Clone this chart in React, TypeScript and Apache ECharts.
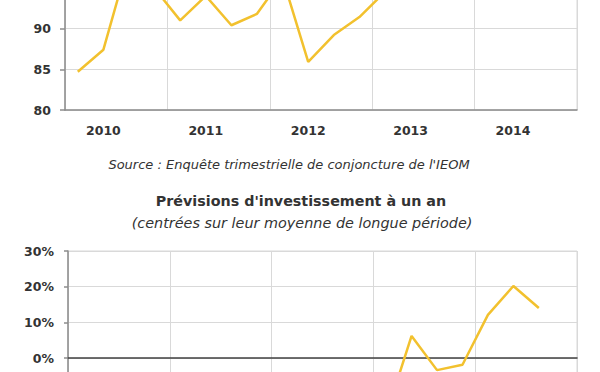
import React, { useEffect, useRef } from "react";
import * as echarts from "echarts";

const years = ["2010", "2011", "2012", "2013", "2014"];
const quarterNames = ["T1", "T2", "T3", "T4"];
const quarters: string[] = years.flatMap((y) => quarterNames.map((q) => `${y} ${q}`));

// Indicateur du climat des affaires (top chart, partially cropped)
const climateValues: (number | null)[] = [
  84.7, 87.4, 98.5, 94.9, 91.0, 94.0, 90.4, 91.8, 96.2, 85.9, 89.2, 91.4, 94.5,
];

// Prévisions d'investissement à un an (%), bottom chart, partially cropped
const investValues: (number | null)[] = [
  null, null, null, null, null, null, null, null, null, null, null, null,
  -16, 6.2, -3.4, -1.9, 12.1, 20.2, 14.0,
];

const topTicks = { min: 80, max: 100, interval: 5 };
const bottomTicks = { min: -30, max: 30, interval: 10 };
// tick labels that fall inside the visible crop
const topVisibleMax = 90;
const bottomVisibleMin = 0;

const sourceText = "Source : Enquête trimestrielle de conjoncture de l'IEOM";
const titleText = "Prévisions d'investissement à un an";
const subtitleText = "(centrées sur leur moyenne de longue période)";

const FONT = "DejaVu Sans";
const LINE_COLOR = "#F2C12E";
const GRID_COLOR = "#d9d9d9";
const AXIS_COLOR = "#8c8c8c";
const TEXT_COLOR = "#333333";

// the drawing surface extends beyond the visible page (the reference is a crop)
const OFF_TOP = 60;
const OFF_BOTTOM = 110;
const W = 600;
const H = 372;

export default function App() {
  const ref = useRef<HTMLDivElement>(null);
  useEffect(() => {
    if (!ref.current) return;
    const chart = echarts.init(ref.current, undefined, { renderer: "svg" });
    const yearSplit = (index: number) => index % 4 === 0;
    const labelAt = (index: number) => index % 4 === 1;
    const totalH = H + OFF_TOP + OFF_BOTTOM;
    chart.setOption({
      animation: false,
      textStyle: { fontFamily: FONT },
      grid: [
        {
          left: 65, right: 23, top: OFF_TOP - 53, bottom: totalH - (OFF_TOP + 110),
          show: true, borderColor: GRID_COLOR, borderWidth: 1, outerBoundsMode: "none",
        },
        {
          left: 68, right: 23, top: OFF_TOP + 251, bottom: totalH - (OFF_TOP + 465),
          show: true, borderColor: GRID_COLOR, borderWidth: 1, outerBoundsMode: "none",
        },
      ],
      xAxis: [
        {
          type: "category",
          gridIndex: 0,
          data: quarters,
          boundaryGap: true,
          axisLine: { show: true, lineStyle: { color: AXIS_COLOR, width: 1.5 } },
          axisTick: { show: false },
          axisLabel: {
            interval: labelAt,
            formatter: (v: string) => v.split(" ")[0],
            color: TEXT_COLOR,
            fontFamily: FONT,
            fontWeight: "bold",
            fontSize: 12.5,
            margin: 14,
          },
          splitLine: { show: true, interval: yearSplit, lineStyle: { color: GRID_COLOR, width: 1 } },
        },
        {
          type: "category",
          gridIndex: 1,
          data: quarters,
          boundaryGap: true,
          axisLine: { show: true, onZero: true, lineStyle: { color: "#404040", width: 1.5 } },
          axisTick: { show: false },
          axisLabel: { show: false },
          splitLine: { show: true, interval: yearSplit, lineStyle: { color: GRID_COLOR, width: 1 } },
        },
      ],
      yAxis: [
        {
          type: "value",
          gridIndex: 0,
          ...topTicks,
          axisLine: { show: true, lineStyle: { color: AXIS_COLOR, width: 1.5 } },
          axisTick: { show: true, length: 5, lineStyle: { color: AXIS_COLOR, width: 1.5 } },
          axisLabel: {
            formatter: (v: number) => (v <= topVisibleMax ? String(v) : ""),
            color: TEXT_COLOR,
            fontFamily: FONT,
            fontWeight: "bold",
            fontSize: 12.5,
            margin: 14,
          },
          splitLine: { show: true, lineStyle: { color: GRID_COLOR, width: 1 } },
        },
        {
          type: "value",
          gridIndex: 1,
          ...bottomTicks,
          axisLine: { show: true, lineStyle: { color: AXIS_COLOR, width: 1.5 } },
          axisTick: { show: true, length: 4, lineStyle: { color: AXIS_COLOR, width: 1.5 } },
          axisLabel: {
            formatter: (v: number) => (v >= bottomVisibleMin ? `${v}%` : ""),
            color: TEXT_COLOR,
            fontFamily: FONT,
            fontWeight: "bold",
            fontSize: 12.5,
            margin: 14,
          },
          splitLine: { show: true, lineStyle: { color: GRID_COLOR, width: 1 } },
        },
      ],
      series: [
        {
          type: "line",
          xAxisIndex: 0,
          yAxisIndex: 0,
          data: climateValues,
          symbol: "none",
          lineStyle: { color: LINE_COLOR, width: 2.5 },
          clip: true,
        },
        {
          type: "line",
          xAxisIndex: 1,
          yAxisIndex: 1,
          data: investValues,
          symbol: "none",
          lineStyle: { color: LINE_COLOR, width: 2.5 },
          clip: true,
        },
      ],
      graphic: [
        {
          type: "text",
          x: 289,
          y: OFF_TOP + 164,
          style: {
            text: sourceText,
            textAlign: "center",
            textVerticalAlign: "middle",
            font: `italic 13px "${FONT}"`,
            fill: TEXT_COLOR,
          },
        },
        {
          type: "text",
          x: 301,
          y: OFF_TOP + 201,
          style: {
            text: titleText,
            textAlign: "center",
            textVerticalAlign: "middle",
            font: `bold 14.3px "${FONT}"`,
            fill: TEXT_COLOR,
          },
        },
        {
          type: "text",
          x: 302,
          y: OFF_TOP + 223,
          style: {
            text: subtitleText,
            textAlign: "center",
            textVerticalAlign: "middle",
            font: `italic 14.4px "${FONT}"`,
            fill: TEXT_COLOR,
          },
        },
      ],
    });
    return () => chart.dispose();
  }, []);
  return (
    <div
      style={{ position: "absolute", left: 0, top: 0, width: W, height: H, overflow: "hidden", background: "#ffffff" }}
    >
      <div
        ref={ref}
        style={{ position: "absolute", left: 0, top: -OFF_TOP, width: W, height: H + OFF_TOP + OFF_BOTTOM }}
      />
    </div>
  );
}
